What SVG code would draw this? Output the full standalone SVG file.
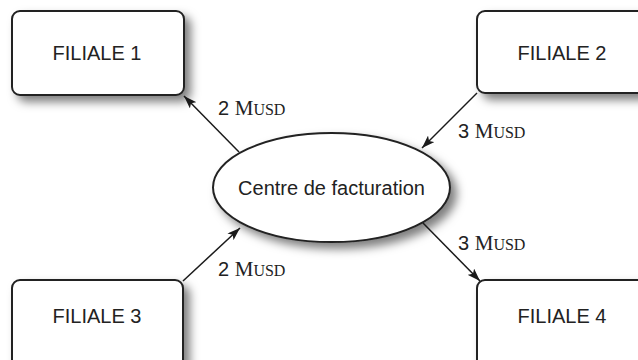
<svg xmlns="http://www.w3.org/2000/svg" width="638" height="360" viewBox="0 0 638 360">
  <defs>
    <filter id="shadow" x="-20%" y="-30%" width="150%" height="170%">
      <feDropShadow dx="6" dy="6" stdDeviation="5" flood-color="#000" flood-opacity="0.5"/>
    </filter>
    <marker id="arrow" viewBox="0 0 13 9" refX="13" refY="4.5" markerWidth="13" markerHeight="9" markerUnits="userSpaceOnUse" orient="auto">
      <path d="M0,0 L13,4.5 L0,9 L3,4.5 z" fill="#1a1a1a"/>
    </marker>
  </defs>
  <style>
    .box { fill: #fff; stroke: #222; stroke-width: 2; filter: url(#shadow); }
    .lbl { font-family: "Liberation Sans", Arial, sans-serif; font-size: 20px; fill: #222; }
    .flow { font-size: 20px; fill: #222; }
    .num { font-family: "Liberation Sans", Arial, sans-serif; }
    .sc { font-family: "Liberation Serif", "Times New Roman", serif; }
    .conn { stroke: #1a1a1a; stroke-width: 1.5; fill: none; marker-end: url(#arrow); }
  </style>
  <rect width="638" height="360" fill="#fff"/>

  <g id="filiale1">
    <rect class="box" x="12" y="11" width="172" height="84" rx="8"/>
    <text class="lbl" x="97" y="60" text-anchor="middle">FILIALE 1</text>
  </g>
  <g id="filiale2">
    <rect class="box" x="477" y="11" width="172" height="82" rx="8"/>
    <text class="lbl" x="562" y="60" text-anchor="middle">FILIALE 2</text>
  </g>
  <g id="filiale3">
    <rect class="box" x="12" y="280" width="171" height="90" rx="8"/>
    <text class="lbl" x="97" y="323" text-anchor="middle">FILIALE 3</text>
  </g>
  <g id="filiale4">
    <rect class="box" x="477" y="280" width="172" height="90" rx="8"/>
    <text class="lbl" x="562" y="323" text-anchor="middle">FILIALE 4</text>
  </g>
  <g id="centre">
    <ellipse class="box" cx="331.5" cy="187.5" rx="118.5" ry="54.5"/>
    <text class="lbl" x="331.5" y="195" text-anchor="middle">Centre de facturation</text>
  </g>

  <g id="connectors">
    <line class="conn" x1="239" y1="152" x2="184" y2="96"/>
    <line class="conn" x1="477" y1="93" x2="422" y2="148"/>
    <line class="conn" x1="183" y1="281" x2="240" y2="228"/>
    <line class="conn" x1="423" y1="223" x2="480" y2="281"/>
  </g>

  <g id="labels">
    <text class="flow" x="218" y="115"><tspan class="num">2 </tspan><tspan class="sc" font-size="21">M</tspan><tspan class="sc" font-size="16">USD</tspan></text>
    <text class="flow" x="458" y="138"><tspan class="num">3 </tspan><tspan class="sc" font-size="21">M</tspan><tspan class="sc" font-size="16">USD</tspan></text>
    <text class="flow" x="458" y="250"><tspan class="num">3 </tspan><tspan class="sc" font-size="21">M</tspan><tspan class="sc" font-size="16">USD</tspan></text>
    <text class="flow" x="218" y="276"><tspan class="num">2 </tspan><tspan class="sc" font-size="21">M</tspan><tspan class="sc" font-size="16">USD</tspan></text>
  </g>
</svg>
